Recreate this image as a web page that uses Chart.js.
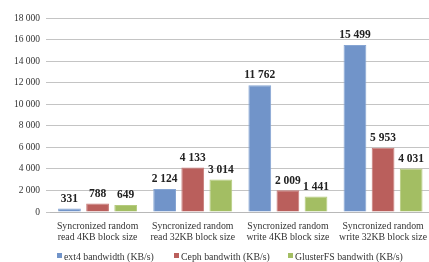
<!DOCTYPE html>
<html><head><meta charset="utf-8">
<script src="https://cdn.jsdelivr.net/npm/chart.js@4/dist/chart.umd.min.js"></script>
<style>html,body{margin:0;padding:0;background:#fff;overflow:hidden;}#wrap{width:429px;height:262px;position:relative;overflow:hidden;}canvas{display:block;}</style>
</head><body><div id="wrap"><canvas id="c" width="436" height="262"></canvas></div>
<script>
const categories = [
  ["Syncronized random", "read 4KB block size"],
  ["Syncronized random", "read 32KB block size"],
  ["Syncronized random", "write 4KB block size"],
  ["Syncronized random", "write 32KB block size"]
];
const seriesNames = ["ext4 bandwidth (KB/s)", "Ceph bandwith (KB/s)", "GlusterFS bandwith (KB/s)"];
const ext4Values = [331, 2124, 11762, 15499];
const cephValues = [788, 4133, 2009, 5953];
const glusterValues = [649, 3014, 1441, 4031];
const yTicks = [0, 2000, 4000, 6000, 8000, 10000, 12000, 14000, 16000, 18000];
const colors = ["#7194C9", "#BA5F5C", "#A3BE63"];
const edgeColors = ["#86A5D3", "#C77A77", "#B5CB7E"];

const fmt = v => String(Math.round(v)).replace(/\B(?=(\d{3})+(?!\d))/g, " ");
const SERIF = "'Liberation Serif', 'DejaVu Serif', serif";

const labelPlugin = {
  id: 'vals',
  afterDatasetsDraw(chart) {
    const ctx = chart.ctx;
    ctx.save();
    ctx.font = "bold 11.5px " + SERIF;
    ctx.fillStyle = "#222";
    ctx.textAlign = "center";
    ctx.textBaseline = "bottom";
    chart.data.datasets.forEach((ds, i) => {
      chart.getDatasetMeta(i).data.forEach((bar, j) => {
        ctx.fillText(fmt(ds.data[j]), bar.x, bar.y - 4);
      });
    });
    ctx.restore();
  }
};

const legendBoxX = [57, 174, 288];
const legendPlugin = {
  id: 'customLegend',
  afterDraw(chart) {
    const ctx = chart.ctx;
    ctx.save();
    ctx.font = "9.8px " + SERIF;
    ctx.textBaseline = "middle";
    ctx.textAlign = "left";
    const box = 5;
    const y = chart.chartArea.bottom + 45;
    chart.data.datasets.forEach((ds, i) => {
      const x = legendBoxX[i];
      ctx.fillStyle = ds.backgroundColor;
      ctx.fillRect(x, y - 4, box, box);
      ctx.fillStyle = "#333";
      ctx.fillText(ds.label, x + box + 2, y);
    });
    ctx.restore();
  }
};

new Chart(document.getElementById('c'), {
  type: 'bar',
  data: {
    labels: categories,
    datasets: [
      { label: seriesNames[0], data: ext4Values, backgroundColor: colors[0], borderColor: edgeColors[0], borderWidth: 1 },
      { label: seriesNames[1], data: cephValues, backgroundColor: colors[1], borderColor: edgeColors[1], borderWidth: 1 },
      { label: seriesNames[2], data: glusterValues, backgroundColor: colors[2], borderColor: edgeColors[2], borderWidth: 1 }
    ]
  },
  options: {
    responsive: false,
    animation: false,
    devicePixelRatio: 1,
    layout: { padding: { top: 18, right: 0, left: 0, bottom: 14 } },
    datasets: { bar: { categoryPercentage: 0.886, barPercentage: 0.81 } },
    plugins: {
      legend: { display: false },
      tooltip: { enabled: false }
    },
    scales: {
      x: {
        grid: { display: false, drawTicks: false },
        border: { display: true, color: "#b8b8b8" },
        ticks: { color: "#333", font: { family: SERIF, size: 9.8, lineHeight: 1.12 }, padding: 9, maxRotation: 0, autoSkip: false },
        afterFit(s) { s.height = 36; }
      },
      y: {
        min: 0, max: 18000,
        afterBuildTicks(s) { s.ticks = yTicks.map(v => ({ value: v })); },
        grid: { color: "#c4c4c4", tickLength: 4, tickColor: "#c4c4c4" },
        border: { display: false },
        ticks: { color: "#333", font: { family: SERIF, size: 9.5 }, padding: 6, callback: v => fmt(v) },
        afterFit(s) { s.width = 50; }
      }
    }
  },
  plugins: [labelPlugin, legendPlugin]
});
</script></body></html>
